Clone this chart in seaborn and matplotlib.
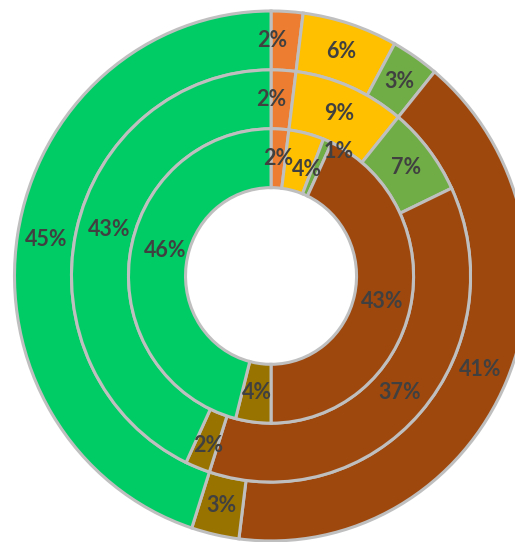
import matplotlib
matplotlib.use('Agg')
import matplotlib.pyplot as plt
import seaborn as sns

# 데이터 (바깥 -> 안쪽 링), 12시 방향부터 시계방향
categories = ['주황', '노랑', '연두', '갈색', '황토', '초록']
outer_vals = [2, 6, 3, 41, 3, 45]
middle_vals = [2, 9, 7, 37, 2, 43]
inner_vals = [2, 4, 1, 43, 4, 46]

colors = ['#ED7D31', '#FFC000', '#70AD47', '#9E480E', '#997300', '#00CC66']

sns.set_theme(style='white')
plt.rcParams['font.family'] = ['Lato', 'DejaVu Sans']

fig = plt.figure(figsize=(5.15, 5.42), dpi=100)
ax = fig.add_axes([0, 0, 1, 1])

ring_w = 2 / 9
rings = [(outer_vals, 1.0), (middle_vals, 7 / 9), (inner_vals, 5 / 9)]

# 겹치는 라벨 살짝 이동 (링 번호, 조각 번호): (dx, dy)
nudge = {(0, 0): (-0.05, 0.0), (1, 0): (-0.04, 0.0),
         (2, 1): (0.03, -0.03), (2, 2): (0.086, 0.06),
         (1, 4): (0.0, -0.02), (1, 5): (0.02, 0.03), (2, 5): (0.03, 0.04)}

for r_i, (vals, radius) in enumerate(rings):
    wedges, texts, autotexts = ax.pie(
        vals,
        colors=colors,
        radius=radius,
        startangle=90,
        counterclock=False,
        autopct=lambda p: f'{p:.0f}%',
        pctdistance=(radius - ring_w / 2) / radius,
        wedgeprops=dict(width=ring_w, edgecolor='#BFBFBF', linewidth=2.2),
        textprops=dict(color='#404040', fontsize=15.5, fontweight='bold'),
    )
    for k, t in enumerate(autotexts):
        if (r_i, k) in nudge:
            dx, dy = nudge[(r_i, k)]
            x, y = t.get_position()
            t.set_position((x + dx, y + dy))

# 원본처럼 오른쪽/아래가 살짝 잘린 영역
ax.set_aspect('auto')
ax.set_xlim(-1.0565, 0.951)
ax.set_ylim(-1.004, 1.0415)
ax.axis('off')

plt.savefig('out.png', dpi=100)
